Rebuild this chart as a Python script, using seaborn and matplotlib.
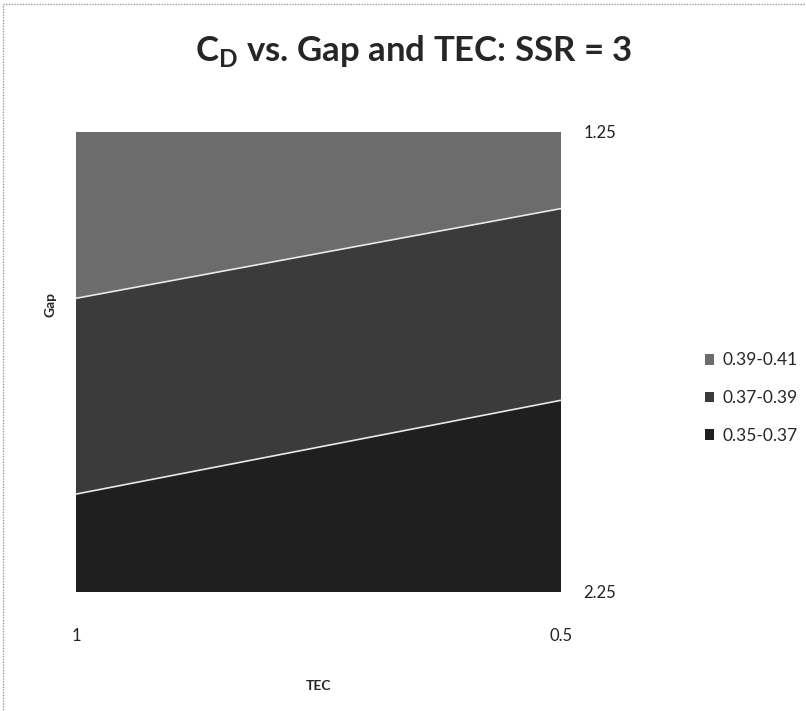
import matplotlib
matplotlib.use("Agg")
import matplotlib.pyplot as plt
from matplotlib.patches import Patch, Rectangle
import numpy as np
import pandas as pd
import seaborn as sns

# Drag coefficient on a TEC x Gap grid
tec = [1.0, 0.5]
gap = [1.25, 2.25]
cd_gap_125 = [0.407, 0.398]
cd_gap_225 = [0.360, 0.350]

band_levels = [0.35, 0.37, 0.39, 0.41]
band_labels = ["0.35-0.37", "0.37-0.39", "0.39-0.41"]
band_colors = ["#1f1f1f", "#3b3b3b", "#6c6c6c"]

table = pd.DataFrame([cd_gap_125, cd_gap_225], index=gap, columns=tec)

sns.set_theme(style="white")
plt.rcParams["font.family"] = ["Lato", "DejaVu Sans"]

fig = plt.figure(figsize=(8.06, 7.11), dpi=100)
ax = fig.add_axes([0.0943, 0.1674, 0.6018, 0.6471])

X, Y = np.meshgrid(table.columns.values, table.index.values)
Z = table.values
ax.contourf(X, Y, Z, levels=band_levels, colors=band_colors)
ax.contour(X, Y, Z, levels=band_levels[1:-1], colors="#e8e8e8", linewidths=1.2)

ax.set_xlim(tec[0], tec[-1])
ax.set_ylim(gap[-1], gap[0])
ax.yaxis.tick_right()
ax.set_xticks(tec)
ax.set_xticklabels(["1", "0.5"])
ax.set_yticks(gap)
ax.set_yticklabels(["1.25", "2.25"])
ax.tick_params(axis="x", length=0, pad=26, labelsize=12, colors="#222222")
ax.tick_params(axis="y", length=0, pad=16, labelsize=12, colors="#222222")
for s in ax.spines.values():
    s.set_visible(False)

ax.set_xlabel("TEC", fontsize=10, fontweight="bold", labelpad=26)
ax.set_ylabel("Gap", fontsize=10, fontweight="bold")
ax.yaxis.set_label_position("left")
ax.yaxis.set_label_coords(-0.04, 0.624)

fig.text(0.513, 0.928, r"C$_\mathregular{D}$ vs. Gap and TEC: SSR = 3",
         ha="center", va="center", fontsize=25, fontweight="bold")

handles = [Patch(facecolor=c, edgecolor="none") for c in band_colors[::-1]]
fig.legend(handles, band_labels[::-1], loc="center left",
           bbox_to_anchor=(0.855, 0.440), frameon=False, fontsize=12.5,
           handlelength=0.55, handleheight=0.55, handletextpad=0.5,
           labelspacing=1.25)

fig.patches.append(Rectangle((0.004, -0.01), 1.0, 1.005, transform=fig.transFigure,
                             fill=False, edgecolor="#9a9a9a", linewidth=1.0,
                             linestyle=(0, (1, 1))))

fig.savefig("out.png", dpi=100)
